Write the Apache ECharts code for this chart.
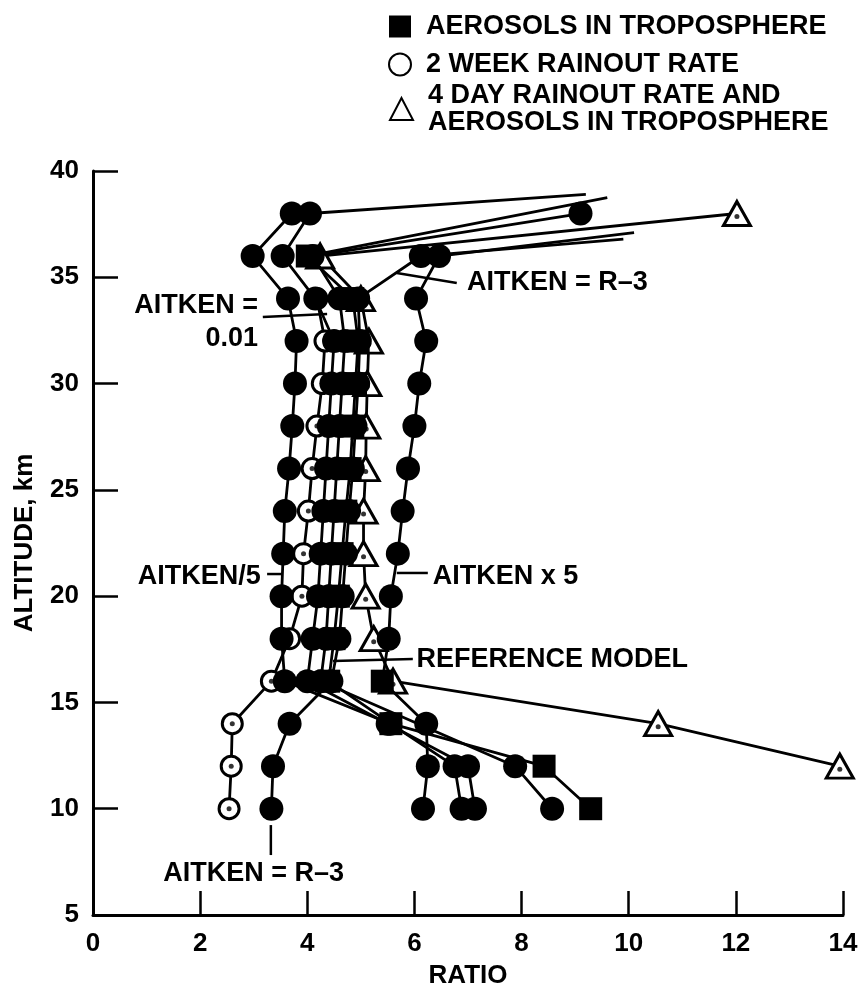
<!DOCTYPE html>
<html>
<head>
<meta charset="utf-8">
<script src="https://cdn.jsdelivr.net/npm/echarts@6/dist/echarts.min.js"></script>
<style>
  html, body { margin: 0; padding: 0; background: #fff; }
  #chart { width: 859px; height: 994px; }
</style>
</head>
<body>
<div id="chart"></div>
<script>
// altitude levels (km), top to bottom
const levels = [38, 36, 34, 32, 30, 28, 26, 24, 22, 20, 18, 16, 14, 12, 10]

// ratio at each level, null = no point
const aerosolsTrop = [null, 4.0, 4.85, 4.95, 4.9, 4.85, 4.8, 4.72, 4.65, 4.58, 4.5, 4.4, 5.56, 8.42, 9.29]
const twoWeekRainout = [null, null, 4.18, 4.33, 4.28, 4.18, 4.09, 4.02, 3.93, 3.9, 3.67, 3.33, 2.6, 2.58, 2.54]
const fourDayRainout = [12.02, 4.24, 5.0, 5.15, 5.12, 5.1, 5.09, 5.05, 5.05, 5.09, 5.24, 5.6, 10.55, 13.94, null]
const aitkenDiv5 = [3.71, 2.98, 3.64, 3.8, 3.77, 3.72, 3.66, 3.58, 3.55, 3.52, 3.52, 3.58, 5.55, 6.75, 6.88]
const aitken001 = [4.05, 3.54, 4.15, 4.5, 4.45, 4.4, 4.35, 4.3, 4.25, 4.2, 4.1, 4.0, 5.5, 7.0, 7.13]
const referenceModel = [9.1, 4.1, 4.6, 4.7, 4.65, 4.6, 4.55, 4.5, 4.45, 4.4, 4.35, 4.25, null, 7.88, 8.57]
const aitkenR3 = [null, 6.12, 4.95, 4.98, 4.95, 4.9, 4.85, 4.78, 4.72, 4.66, 4.6, 4.45, 3.67, 3.36, 3.33]
const aitkenX5 = [null, 6.46, 6.03, 6.22, 6.09, 6.0, 5.88, 5.78, 5.69, 5.56, 5.52, 5.4, 6.22, 6.25, 6.16]

// lines running off toward larger ratios at the top [ratio, altitude]
const aerosolsTropTail = [9.6, 38.75]
const aitken001Tail = [9.2, 38.9]
const aitkenR3Tail = [9.9, 36.8]
const aitkenX5Tail = [10.1, 37.1]
const aitkenX5SquareAt = 16

// annotations: text, text anchor, pointer start, pointer end, align
const noteTexts = ['AITKEN = R\u20133', 'AITKEN =\n0.01', 'AITKEN/5', 'AITKEN x 5', 'REFERENCE MODEL', 'AITKEN = R\u20133']
const noteAnchors = [[6.98, 34.73], [3.08, 32.89], [3.13, 20.9], [6.34, 20.9], [6.04, 17.0], [1.31, 6.93]]
const notePointerFrom = [[5.67, 35.2], [3.17, 33.13], [3.25, 21.04], [5.67, 21.09], [4.48, 16.95], [3.32, 9.23]]
const notePointerTo = [[6.79, 34.73], [4.37, 33.27], [3.54, 21.04], [6.25, 21.09], [5.97, 17.04], [3.32, 7.82]]
const noteAlign = ['left', 'right', 'right', 'left', 'left', 'left']

const FONT = '"Liberation Sans", Arial, sans-serif'
const NAME_TROP = 'AEROSOLS IN TROPOSPHERE'
const NAME_2WK = '2 WEEK RAINOUT RATE'
const NAME_4DAY = '4 DAY RAINOUT RATE AND\nAEROSOLS IN TROPOSPHERE'

function points(ratios, tail, squareAt) {
  const out = []
  if (tail) out.push({ value: tail, symbol: 'none' })
  ratios.forEach((r, i) => {
    if (r == null) return
    const p = { value: [r, levels[i]] }
    if (levels[i] === squareAt) {
      p.symbol = 'rect'
      p.symbolSize = 23
    }
    out.push(p)
  })
  return out
}

function dots(ratios) {
  const out = []
  ratios.forEach((r, i) => {
    if (r != null) out.push([r, levels[i]])
  })
  return out
}

function filledLine(name, ratios, tail, symbol, squareAt) {
  return {
    name: name,
    type: 'line',
    symbol: symbol || 'circle',
    symbolSize: symbol === 'rect' ? 23 : 24,
    showAllSymbol: true,
    lineStyle: { color: '#000', width: 2.8 },
    itemStyle: { color: '#000' },
    z: 4,
    animation: false,
    data: points(ratios, tail, squareAt)
  }
}

const chart = echarts.init(document.getElementById('chart'), null, { renderer: 'canvas' })

const legendText = { fontFamily: FONT, fontWeight: 'bold', fontSize: 27, lineHeight: 27, color: '#000', padding: [0, 0, 0, 10] }

const option = {
  backgroundColor: '#fff',
  animation: false,
  grid: { left: 93, right: 16, top: 171, bottom: 79, outerBoundsMode: 'none', containLabel: false },
  legend: [
    {
      orient: 'vertical',
      left: 383,
      top: 8,
      itemWidth: 22,
      itemHeight: 22,
      itemGap: 11,
      selectedMode: false,
      textStyle: legendText,
      data: [
        { name: NAME_TROP, icon: 'rect' },
        { name: NAME_2WK, icon: 'circle' }
      ]
    },
    {
      orient: 'vertical',
      left: 384,
      top: 77,
      itemWidth: 23,
      itemHeight: 22,
      selectedMode: false,
      textStyle: legendText,
      data: [{ name: NAME_4DAY, icon: 'triangle' }]
    }
  ],
  xAxis: {
    type: 'value',
    min: 0,
    max: 14,
    interval: 2,
    name: 'RATIO',
    nameLocation: 'middle',
    nameGap: 48,
    nameTextStyle: { fontFamily: FONT, fontWeight: 'bold', fontSize: 26, color: '#000' },
    axisLine: { lineStyle: { color: '#000', width: 3 } },
    axisTick: { inside: true, length: 24, lineStyle: { color: '#000', width: 2.5 } },
    axisLabel: { margin: 16, fontFamily: FONT, fontWeight: 'bold', fontSize: 26, color: '#000' },
    splitLine: { show: false }
  },
  yAxis: {
    type: 'value',
    min: 5,
    max: 40,
    interval: 5,
    name: 'ALTITUDE, km',
    nameLocation: 'middle',
    nameRotate: 90,
    nameGap: 55,
    nameTextStyle: { fontFamily: FONT, fontWeight: 'bold', fontSize: 26, color: '#000' },
    axisLine: { show: true, lineStyle: { color: '#000', width: 3 } },
    axisTick: { show: true, inside: true, length: 25, lineStyle: { color: '#000', width: 2.5 } },
    axisLabel: { margin: 14, fontFamily: FONT, fontWeight: 'bold', fontSize: 26, color: '#000' },
    splitLine: { show: false }
  },
  series: [
    {
      name: NAME_2WK,
      type: 'line',
      symbol: 'circle',
      symbolSize: 20,
      showAllSymbol: true,
      lineStyle: { color: '#000', width: 2.8 },
      itemStyle: { color: '#fff', borderColor: '#000', borderWidth: 3 },
      z: 2,
      data: points(twoWeekRainout)
    },
    {
      name: 'dots2wk',
      type: 'scatter',
      symbolSize: 5,
      itemStyle: { color: '#000' },
      silent: true,
      z: 2,
      data: dots(twoWeekRainout)
    },
    {
      name: NAME_4DAY,
      type: 'line',
      symbol: 'triangle',
      symbolSize: [27, 24],
      showAllSymbol: true,
      lineStyle: { color: '#000', width: 2.8 },
      itemStyle: { color: '#fff', borderColor: '#000', borderWidth: 3 },
      z: 2,
      data: points(fourDayRainout)
    },
    {
      name: 'dots4day',
      type: 'scatter',
      symbolSize: 5,
      symbolOffset: [0, 3],
      itemStyle: { color: '#000' },
      silent: true,
      z: 2,
      data: dots(fourDayRainout)
    },
    filledLine('AITKEN/5', aitkenDiv5),
    filledLine('AITKEN = 0.01', aitken001, aitken001Tail),
    filledLine('REFERENCE MODEL', referenceModel),
    filledLine('AITKEN = R-3', aitkenR3, aitkenR3Tail),
    filledLine('AITKEN x 5', aitkenX5, aitkenX5Tail, 'circle', aitkenX5SquareAt),
    filledLine(NAME_TROP, aerosolsTrop, aerosolsTropTail, 'rect')
  ]
}

chart.setOption(option)

// annotation texts and pointer lines placed from data coordinates
const graphics = []
noteTexts.forEach((t, i) => {
  const a = chart.convertToPixel({ gridIndex: 0 }, noteAnchors[i])
  const p1 = chart.convertToPixel({ gridIndex: 0 }, notePointerFrom[i])
  const p2 = chart.convertToPixel({ gridIndex: 0 }, notePointerTo[i])
  graphics.push({
    type: 'line',
    shape: { x1: p1[0], y1: p1[1], x2: p2[0], y2: p2[1] },
    style: { stroke: '#000', lineWidth: 2.5 },
    z: 10
  })
  graphics.push({
    type: 'text',
    x: a[0],
    y: a[1],
    style: {
      text: t,
      fill: '#000',
      font: 'bold 27px ' + FONT,
      align: noteAlign[i],
      verticalAlign: 'middle',
      lineHeight: 33
    },
    z: 10
  })
})
chart.setOption({ graphic: graphics })
</script>
</body>
</html>
